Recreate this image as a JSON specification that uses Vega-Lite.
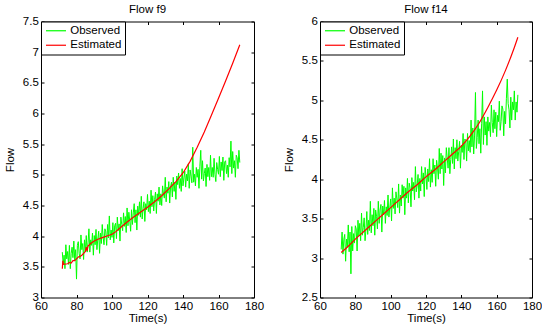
{
  "$schema": "https://vega.github.io/schema/vega-lite/v6.json",
  "padding": {"left": 4, "top": 3.5, "right": 5, "bottom": 2},
  "config": {
    "font": "Liberation Sans",
    "view": {"stroke": null},
    "axis": {"domainColor": "#000", "tickColor": "#000", "labelColor": "#000", "titleColor": "#000", "labelFontSize": 11.5, "titleFontSize": 11.5, "titleFontWeight": "normal", "grid": false, "tickSize": -3, "labelOverlap": false, "labelFlush": false, "labelBound": false},
    "axisX": {"labelPadding": 5.5, "titlePadding": 1},
    "axisY": {"labelPadding": 5.7, "titlePadding": 7.3},
    "title": {"fontSize": 11.5, "fontWeight": "normal", "color": "#000", "offset": 0.5, "frame": "group"},
    "legend": {"title": null, "orient": "top-left", "offset": 0, "strokeColor": "#000", "fillColor": "#fff", "padding": 3.25, "symbolType": "M-0.85,0H3.15", "symbolSize": 100, "symbolStrokeWidth": 1.2, "labelFontSize": 11.5, "labelColor": "#000", "labelOffset": 14, "rowPadding": 2.5}
  },
  "spacing": 66,
  "bounds": "flush",
  "resolve": {"scale": {"color": "independent"}, "legend": {"color": "independent"}},
  "hconcat": [
    {
      "width": 213, "height": 276,
      "title": "Flow f9",
      "layer": [
        {
          "data": {"values": [
{"t":72,"v":3.74},{"t":72.5,"v":3.54},{"t":73,"v":3.69},{"t":73.5,"v":3.47},{"t":74,"v":3.86},{"t":74.5,"v":3.63},{"t":75,"v":3.75},{"t":75.5,"v":3.54},{"t":76,"v":3.85},{"t":76.5,"v":3.47},
{"t":77,"v":3.72},{"t":77.5,"v":3.82},{"t":78,"v":3.65},{"t":78.5,"v":3.92},{"t":79,"v":3.61},{"t":79.5,"v":3.78},{"t":80,"v":3.30},{"t":80.5,"v":3.85},{"t":81,"v":3.91},{"t":81.5,"v":3.72},
{"t":82,"v":3.63},{"t":82.5,"v":4.02},{"t":83,"v":3.78},{"t":83.5,"v":3.88},{"t":84,"v":3.62},{"t":84.5,"v":3.94},{"t":85,"v":3.75},{"t":85.5,"v":4.01},{"t":86,"v":3.74},{"t":86.5,"v":3.89},
{"t":87,"v":4.12},{"t":87.5,"v":3.74},{"t":88,"v":3.94},{"t":88.5,"v":3.85},{"t":89,"v":4.05},{"t":89.5,"v":3.69},{"t":90,"v":4.01},{"t":90.5,"v":3.86},{"t":91,"v":4.11},{"t":91.5,"v":3.78},
{"t":92,"v":3.95},{"t":92.5,"v":4.08},{"t":93,"v":3.72},{"t":93.5,"v":4.05},{"t":94,"v":3.88},{"t":94.5,"v":4.19},{"t":95,"v":3.98},{"t":95.5,"v":3.86},{"t":96,"v":4.12},{"t":96.5,"v":4.07},
{"t":97,"v":3.85},{"t":97.5,"v":4.19},{"t":98,"v":3.97},{"t":98.5,"v":4.33},{"t":99,"v":3.94},{"t":99.5,"v":4.10},{"t":100,"v":3.98},{"t":100.5,"v":4.22},{"t":101,"v":3.89},{"t":101.5,"v":4.17},
{"t":102,"v":4.21},{"t":102.5,"v":3.96},{"t":103,"v":4.31},{"t":103.5,"v":4.09},{"t":104,"v":4.20},{"t":104.5,"v":3.92},{"t":105,"v":4.31},{"t":105.5,"v":4.19},{"t":106,"v":4.09},{"t":106.5,"v":4.38},
{"t":107,"v":4.16},{"t":107.5,"v":4.32},{"t":108,"v":4.06},{"t":108.5,"v":4.46},{"t":109,"v":4.17},{"t":109.5,"v":4.39},{"t":110,"v":4.25},{"t":110.5,"v":4.08},{"t":111,"v":4.43},{"t":111.5,"v":4.19},
{"t":112,"v":4.38},{"t":112.5,"v":4.53},{"t":113,"v":4.22},{"t":113.5,"v":4.43},{"t":114,"v":4.10},{"t":114.5,"v":4.49},{"t":115,"v":4.34},{"t":115.5,"v":4.56},{"t":116,"v":4.31},{"t":116.5,"v":4.65},
{"t":117,"v":4.28},{"t":117.5,"v":4.45},{"t":118,"v":4.56},{"t":118.5,"v":4.24},{"t":119,"v":4.53},{"t":119.5,"v":4.43},{"t":120,"v":4.68},{"t":120.5,"v":4.40},{"t":121,"v":4.57},{"t":121.5,"v":4.37},
{"t":122,"v":4.75},{"t":122.5,"v":4.48},{"t":123,"v":4.66},{"t":123.5,"v":4.41},{"t":124,"v":4.60},{"t":124.5,"v":4.72},{"t":125,"v":4.37},{"t":125.5,"v":4.69},{"t":126,"v":4.57},{"t":126.5,"v":4.80},
{"t":127,"v":4.51},{"t":127.5,"v":4.69},{"t":128,"v":4.50},{"t":128.5,"v":4.82},{"t":129,"v":4.69},{"t":129.5,"v":4.62},{"t":130,"v":4.96},{"t":130.5,"v":4.56},{"t":131,"v":4.80},{"t":131.5,"v":4.70},
{"t":132,"v":4.89},{"t":132.5,"v":4.54},{"t":133,"v":4.80},{"t":133.5,"v":4.88},{"t":134,"v":4.64},{"t":134.5,"v":4.96},{"t":135,"v":4.73},{"t":135.5,"v":4.88},{"t":136,"v":4.60},{"t":136.5,"v":4.98},
{"t":137,"v":4.84},{"t":137.5,"v":5.03},{"t":138,"v":4.78},{"t":138.5,"v":4.94},{"t":139,"v":4.73},{"t":139.5,"v":5.10},{"t":140,"v":4.82},{"t":140.5,"v":4.95},{"t":141,"v":5.06},{"t":141.5,"v":4.80},
{"t":142,"v":5.01},{"t":142.5,"v":4.90},{"t":143,"v":5.18},{"t":143.5,"v":4.78},{"t":144,"v":5.08},{"t":144.5,"v":4.98},{"t":145,"v":4.87},{"t":145.5,"v":5.45},{"t":146,"v":4.88},{"t":146.5,"v":5.01},
{"t":147,"v":4.82},{"t":147.5,"v":5.12},{"t":148,"v":4.96},{"t":148.5,"v":5.09},{"t":149,"v":4.78},{"t":149.5,"v":5.14},{"t":150,"v":5.40},{"t":150.5,"v":4.93},{"t":151,"v":5.23},{"t":151.5,"v":4.90},
{"t":152,"v":5.02},{"t":152.5,"v":5.11},{"t":153,"v":4.81},{"t":153.5,"v":5.17},{"t":154,"v":4.97},{"t":154.5,"v":5.12},{"t":155,"v":4.91},{"t":155.5,"v":5.32},{"t":156,"v":4.97},{"t":156.5,"v":5.12},
{"t":157,"v":4.96},{"t":157.5,"v":5.27},{"t":158,"v":5.01},{"t":158.5,"v":4.89},{"t":159,"v":5.20},{"t":159.5,"v":5.09},{"t":160,"v":5.01},{"t":160.5,"v":5.30},{"t":161,"v":4.97},{"t":161.5,"v":5.21},
{"t":162,"v":5.07},{"t":162.5,"v":5.29},{"t":163,"v":4.91},{"t":163.5,"v":5.21},{"t":164,"v":5.23},{"t":164.5,"v":5.02},{"t":165,"v":5.16},{"t":165.5,"v":4.96},{"t":166,"v":5.28},{"t":166.5,"v":5.13},
{"t":167,"v":5.55},{"t":167.5,"v":5.02},{"t":168,"v":5.38},{"t":168.5,"v":5.11},{"t":169,"v":5.23},{"t":169.5,"v":4.96},{"t":170,"v":5.32},{"t":170.5,"v":5.28},{"t":171,"v":5.10},{"t":171.5,"v":5.40},
{"t":172,"v":5.20}
          ]},
          "mark": {"type": "line", "strokeWidth": 1},
          "encoding": {
            "x": {"field": "t", "type": "quantitative", "scale": {"domain": [60, 180], "nice": false, "zero": false}, "axis": {"title": "Time(s)", "values": [60, 80, 100, 120, 140, 160, 180]}},
            "y": {"field": "v", "type": "quantitative", "scale": {"domain": [3, 7.5], "nice": false, "zero": false}, "axis": {"title": "Flow", "format": "~g", "values": [3, 3.5, 4, 4.5, 5, 5.5, 6, 6.5, 7, 7.5]}},
            "color": {"datum": "Observed", "type": "nominal", "scale": {"domain": ["Observed", "Estimated"], "range": ["#00ff00", "#ff0000"]}}
          }
        },
        {
          "data": {"values": [
{"t":72,"v":3.47},{"t":72.3,"v":3.6},{"t":72.6,"v":3.54},{"t":75,"v":3.55},{"t":76,"v":3.57},{"t":77,"v":3.56},{"t":78,"v":3.6},{"t":79,"v":3.6},{"t":80,"v":3.63},{"t":81,"v":3.66},{"t":82,"v":3.67},{"t":83,"v":3.69},{"t":84,"v":3.72},{"t":85,"v":3.75},{"t":85.5,"v":3.82},{"t":86,"v":3.76},{"t":86.5,"v":3.84},{"t":88,"v":3.88},{"t":90,"v":3.92},{"t":92,"v":3.95},{"t":95,"v":3.98},{"t":98,"v":4.01},{"t":100,"v":4.03},{"t":102,"v":4.07},{"t":104,"v":4.12},{"t":108,"v":4.22},{"t":112,"v":4.31},{"t":116,"v":4.39},{"t":120,"v":4.47},{"t":124,"v":4.56},{"t":128,"v":4.66},{"t":132,"v":4.77},{"t":136,"v":4.89},{"t":140,"v":5.03},{"t":144,"v":5.22},{"t":148,"v":5.45},{"t":152,"v":5.7},{"t":156,"v":5.97},{"t":160,"v":6.25},{"t":164,"v":6.53},{"t":168,"v":6.82},{"t":172,"v":7.12}
          ]},
          "mark": {"type": "line", "strokeWidth": 1.2},
          "encoding": {
            "x": {"field": "t", "type": "quantitative", "axis": {"orient": "top", "labels": false, "title": null, "values": [60, 80, 100, 120, 140, 160, 180]}},
            "y": {"field": "v", "type": "quantitative", "axis": {"orient": "right", "labels": false, "title": null, "values": [3, 3.5, 4, 4.5, 5, 5.5, 6, 6.5, 7, 7.5]}},
            "color": {"datum": "Estimated", "type": "nominal"}
          }
        }
      ],
      "resolve": {"axis": {"x": "independent", "y": "independent"}}
    },
    {
      "width": 212, "height": 276,
      "title": "Flow f14",
      "layer": [
        {
          "data": {"values": [
{"t":72,"v":3.11},{"t":72.5,"v":3.33},{"t":73,"v":3.05},{"t":73.5,"v":3.24},{"t":74,"v":3.30},{"t":74.5,"v":2.96},{"t":75,"v":3.24},{"t":75.5,"v":3.14},{"t":76,"v":3.42},{"t":76.5,"v":3.08},
{"t":77,"v":3.33},{"t":77.5,"v":2.80},{"t":78,"v":3.40},{"t":78.5,"v":3.09},{"t":79,"v":3.31},{"t":79.5,"v":3.19},{"t":80,"v":3.41},{"t":80.5,"v":3.37},{"t":81,"v":3.09},{"t":81.5,"v":3.48},
{"t":82,"v":3.28},{"t":82.5,"v":3.44},{"t":83,"v":3.22},{"t":83.5,"v":3.57},{"t":84,"v":3.29},{"t":84.5,"v":3.39},{"t":85,"v":3.51},{"t":85.5,"v":3.22},{"t":86,"v":3.36},{"t":86.5,"v":3.59},
{"t":87,"v":3.30},{"t":87.5,"v":3.48},{"t":88,"v":3.35},{"t":88.5,"v":3.72},{"t":89,"v":3.32},{"t":89.5,"v":3.55},{"t":90,"v":3.41},{"t":90.5,"v":3.63},{"t":91,"v":3.29},{"t":91.5,"v":3.61},
{"t":92,"v":3.53},{"t":92.5,"v":3.37},{"t":93,"v":3.72},{"t":93.5,"v":3.44},{"t":94,"v":3.61},{"t":94.5,"v":3.68},{"t":95,"v":3.33},{"t":95.5,"v":3.66},{"t":96,"v":3.55},{"t":96.5,"v":3.73},
{"t":97,"v":3.44},{"t":97.5,"v":3.65},{"t":98,"v":3.54},{"t":98.5,"v":3.80},{"t":99,"v":3.52},{"t":99.5,"v":3.64},{"t":100,"v":3.75},{"t":100.5,"v":3.47},{"t":101,"v":3.89},{"t":101.5,"v":3.63},
{"t":102,"v":3.76},{"t":102.5,"v":3.56},{"t":103,"v":3.84},{"t":103.5,"v":3.75},{"t":104,"v":3.64},{"t":104.5,"v":3.94},{"t":105,"v":3.57},{"t":105.5,"v":3.80},{"t":106,"v":3.66},{"t":106.5,"v":3.93},
{"t":107,"v":3.76},{"t":107.5,"v":3.91},{"t":108,"v":3.55},{"t":108.5,"v":3.89},{"t":109,"v":3.76},{"t":109.5,"v":4.01},{"t":110,"v":3.70},{"t":110.5,"v":3.95},{"t":111,"v":3.89},{"t":111.5,"v":3.65},
{"t":112,"v":4.02},{"t":112.5,"v":3.85},{"t":113,"v":3.96},{"t":113.5,"v":3.74},{"t":114,"v":4.16},{"t":114.5,"v":3.84},{"t":115,"v":3.92},{"t":115.5,"v":4.06},{"t":116,"v":3.76},{"t":116.5,"v":4.01},
{"t":117,"v":3.85},{"t":117.5,"v":4.16},{"t":118,"v":3.94},{"t":118.5,"v":4.08},{"t":119,"v":3.78},{"t":119.5,"v":4.15},{"t":120,"v":4.04},{"t":120.5,"v":3.87},{"t":121,"v":4.13},{"t":121.5,"v":3.97},
{"t":122,"v":4.26},{"t":122.5,"v":3.90},{"t":123,"v":4.12},{"t":123.5,"v":3.96},{"t":124,"v":4.26},{"t":124.5,"v":4.07},{"t":125,"v":4.18},{"t":125.5,"v":3.91},{"t":126,"v":4.24},{"t":126.5,"v":4.15},
{"t":127,"v":4.00},{"t":127.5,"v":4.39},{"t":128,"v":4.07},{"t":128.5,"v":4.33},{"t":129,"v":4.13},{"t":129.5,"v":4.30},{"t":130,"v":3.92},{"t":130.5,"v":4.27},{"t":131,"v":4.08},{"t":131.5,"v":4.40},
{"t":132,"v":4.27},{"t":132.5,"v":4.14},{"t":133,"v":4.40},{"t":133.5,"v":4.07},{"t":134,"v":4.25},{"t":134.5,"v":4.41},{"t":135,"v":4.20},{"t":135.5,"v":4.51},{"t":136,"v":4.13},{"t":136.5,"v":4.40},
{"t":137,"v":4.26},{"t":137.5,"v":4.50},{"t":138,"v":4.23},{"t":138.5,"v":4.35},{"t":139,"v":4.48},{"t":139.5,"v":4.14},{"t":140,"v":4.43},{"t":140.5,"v":4.34},{"t":141,"v":4.58},{"t":141.5,"v":4.25},
{"t":142,"v":4.51},{"t":142.5,"v":4.49},{"t":143,"v":4.23},{"t":143.5,"v":4.58},{"t":144,"v":4.36},{"t":144.5,"v":4.49},{"t":145,"v":4.34},{"t":145.5,"v":4.75},{"t":146,"v":4.41},{"t":146.5,"v":4.65},
{"t":147,"v":4.32},{"t":147.5,"v":4.56},{"t":148,"v":5.10},{"t":148.5,"v":4.39},{"t":149,"v":4.53},{"t":149.5,"v":4.75},{"t":150,"v":4.45},{"t":150.5,"v":4.64},{"t":151,"v":4.33},{"t":151.5,"v":4.71},
{"t":152,"v":5.12},{"t":152.5,"v":4.44},{"t":153,"v":4.79},{"t":153.5,"v":4.56},{"t":154,"v":4.73},{"t":154.5,"v":4.43},{"t":155,"v":4.79},{"t":155.5,"v":4.61},{"t":156,"v":4.72},{"t":156.5,"v":4.54},
{"t":157,"v":4.94},{"t":157.5,"v":4.72},{"t":158,"v":4.59},{"t":158.5,"v":4.88},{"t":159,"v":4.64},{"t":159.5,"v":4.85},{"t":160,"v":4.54},{"t":160.5,"v":4.81},{"t":161,"v":4.73},{"t":161.5,"v":4.99},
{"t":162,"v":4.62},{"t":162.5,"v":4.73},{"t":163,"v":4.93},{"t":163.5,"v":4.89},{"t":164,"v":4.55},{"t":164.5,"v":4.86},{"t":165,"v":4.70},{"t":165.5,"v":5.02},{"t":166,"v":5.27},{"t":166.5,"v":4.96},
{"t":167,"v":4.88},{"t":167.5,"v":4.65},{"t":168,"v":5.04},{"t":168.5,"v":4.75},{"t":169,"v":4.98},{"t":169.5,"v":4.88},{"t":170,"v":5.12},{"t":170.5,"v":4.75},{"t":171,"v":4.98},{"t":171.5,"v":4.85},
{"t":172,"v":5.07}
          ]},
          "mark": {"type": "line", "strokeWidth": 1},
          "encoding": {
            "x": {"field": "t", "type": "quantitative", "scale": {"domain": [60, 180], "nice": false, "zero": false}, "axis": {"title": "Time(s)", "values": [60, 80, 100, 120, 140, 160, 180]}},
            "y": {"field": "v", "type": "quantitative", "scale": {"domain": [2.5, 6], "nice": false, "zero": false}, "axis": {"title": "Flow", "format": "~g", "values": [2.5, 3, 3.5, 4, 4.5, 5, 5.5, 6]}},
            "color": {"datum": "Observed", "type": "nominal", "scale": {"domain": ["Observed", "Estimated"], "range": ["#00ff00", "#ff0000"]}}
          }
        },
        {
          "data": {"values": [
{"t":72,"v":3.07},{"t":76,"v":3.15},{"t":80,"v":3.24},{"t":85,"v":3.34},{"t":90,"v":3.44},{"t":95,"v":3.54},{"t":100,"v":3.64},{"t":105,"v":3.74},{"t":110,"v":3.84},{"t":115,"v":3.93},{"t":120,"v":4.03},{"t":125,"v":4.12},{"t":130,"v":4.22},{"t":135,"v":4.32},{"t":140,"v":4.42},{"t":145,"v":4.55},{"t":150,"v":4.71},{"t":155,"v":4.91},{"t":160,"v":5.13},{"t":165,"v":5.38},{"t":170,"v":5.67},{"t":172,"v":5.8}
          ]},
          "mark": {"type": "line", "strokeWidth": 1.2, "interpolate": "monotone"},
          "encoding": {
            "x": {"field": "t", "type": "quantitative", "axis": {"orient": "top", "labels": false, "title": null, "values": [60, 80, 100, 120, 140, 160, 180]}},
            "y": {"field": "v", "type": "quantitative", "axis": {"orient": "right", "labels": false, "title": null, "values": [2.5, 3, 3.5, 4, 4.5, 5, 5.5, 6]}},
            "color": {"datum": "Estimated", "type": "nominal"}
          }
        }
      ],
      "resolve": {"axis": {"x": "independent", "y": "independent"}}
    }
  ]
}
